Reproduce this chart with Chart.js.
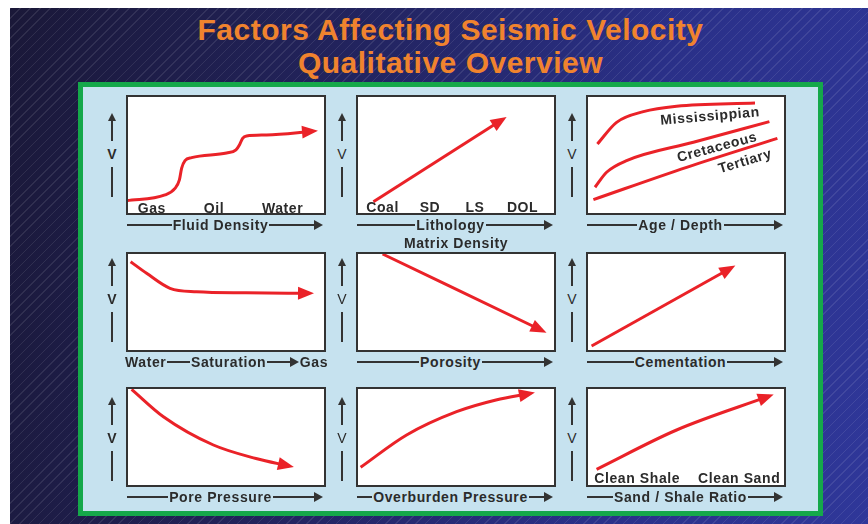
<!DOCTYPE html>
<html>
<head>
<meta charset="utf-8">
<script src="https://cdn.jsdelivr.net/npm/chart.js@4.4.1/dist/chart.umd.min.js"></script>
<style>
  html, body { margin: 0; padding: 0; }
  body { width: 868px; height: 524px; overflow: hidden; position: relative; background: #fff;
         font-family: "Liberation Sans", Arial, Helvetica, sans-serif; }
  #bg { position: absolute; left: 10px; top: 8px; right: 0; bottom: 0;
        background:
          repeating-linear-gradient(135deg, rgba(255,255,255,0.09) 0 1px, rgba(255,255,255,0) 1px 7px),
          linear-gradient(100deg, #1a1838 0%, #22235c 35%, #2a3088 70%, #2f3799 100%); }
  #title { position: absolute; left: 78px; width: 745px; top: 13px; text-align: center; color: #f0832e;
           font-weight: bold; font-size: 30px; line-height: 33px; letter-spacing: 0.5px; }
  #frame { position: absolute; left: 78px; top: 82px; width: 745px; height: 434px; box-sizing: border-box;
           border: 5px solid #15a84a; background: #c6e2ef; }
  canvas { position: absolute; }
  .lbl { position: absolute; color: #2b2b2b; font-weight: bold; font-size: 14px; letter-spacing: 0.6px;
         white-space: nowrap; line-height: 15px; }
  .xaxis { position: absolute; display: flex; align-items: center; height: 16px; }
  .xaxis .ln { flex: 1; height: 2px; background: #333; }
  .xaxis .tx { color: #2b2b2b; font-weight: bold; font-size: 14px; letter-spacing: 0.6px; white-space: nowrap; padding: 0 1px; }
  .xaxis .hd { width: 0; height: 0; border-left: 9px solid #333; border-top: 5px solid transparent; border-bottom: 5px solid transparent; }
  .yaxis { position: absolute; width: 12px; display: flex; flex-direction: column; align-items: center; }
  .yaxis .hd { width: 0; height: 0; border-bottom: 8px solid #333; border-left: 4px solid transparent; border-right: 4px solid transparent; }
  .yaxis .ln { width: 2px; background: #333; }
  .yaxis .v { height: 26px; line-height: 26px; font-size: 14px; color: #2b2b2b; }
</style>
</head>
<body>
<div id="bg"></div>
<div id="title">Factors Affecting Seismic Velocity<br>Qualitative Overview</div>
<div id="frame"></div>
<script>
// ---- data (x = position along the factor, v = relative velocity, both 0..100) ----
const fluidX = [0.3, 19.5, 24.5, 26.7, 27.8, 29.5, 32.8, 50.3, 55, 56.7, 58.3, 60.3, 70.3, 93.5];
const fluidV = [11.9, 16.7, 22.2, 29.2, 38.9, 45.3, 47.8, 51.7, 54.2, 58.3, 63.9, 65.8, 66.7, 69.8];
const fluidNames = ['Gas', 'Oil', 'Water'];

const lithX = [8.7, 73.2];
const lithV = [11.1, 79.5];
const lithNames = ['Coal', 'SD', 'LS', 'DOL'];

const ageX = [5.7, 15.3, 28.7, 45.3, 84.5];
const mississippianV = [59.2, 77.2, 86.1, 90.6, 93.3];
const cretX = [4.5, 10.3, 20.3, 53.7, 91.7];
const cretaceousV = [23.1, 35.6, 45.3, 60.6, 77.8];
const tertX = [3.7, 50.3, 95.7];
const tertiaryV = [12.8, 39.7, 63.9];
const ageNames = ['Mississippian', 'Cretaceous', 'Tertiary'];

const satX = [2.3, 10.3, 22, 35.3, 60, 91.5];
const satV = [90.3, 78.7, 63.7, 60.3, 59.2, 58.7];

const poroX = [13.3, 93];
const poroV = [98, 21.5];

const cemX = [2.8, 72.5];
const cemV = [6, 84];

const poreX = [2.8, 18.7, 43.7, 65, 81.5];
const poreV = [97.7, 70.3, 42, 28.5, 21];

const overX = [2.3, 25.3, 50.3, 70, 87];
const overV = [19.7, 52, 75.3, 87, 93.5];

const sandX = [5.3, 45.3, 91.5];
const sandV = [17.7, 57, 90.8];
const sandNames = ['Clean Shale', 'Clean Sand'];

// ---- layout ----
const RED = '#ea2228';
const INK = '#333333';
const colLeft = [126, 356, 586];
const rowTop = [95, 252, 387];
const rowH = [120, 100, 100];
const PANEL_W = 200;
const yTipOffset = [18, 6, 10];

function series(x, v, arrow) {
  return { data: x.map((xx, i) => ({ x: xx, y: v[i] })), arrow: arrow };
}

const panels = [
  { col: 0, row: 0, lines: [series(fluidX, fluidV, true)],
    names: fluidNames.map((t, i) => ({ t, x: [12.9, 44, 78.3][i], y: 6 })),
    axis: ['ln', 'Fluid Density', 'ln', 'hd'], vBold: true },
  { col: 1, row: 0, lines: [series(lithX, lithV, true)],
    names: lithNames.map((t, i) => ({ t, x: [13.3, 37, 59.5, 83.3][i], y: 6.3 })),
    axis: ['ln', 'Lithology', 'ln', 'hd'], sub: 'Matrix Density' },
  { col: 2, row: 0, lines: [series(ageX, mississippianV, false), series(cretX, cretaceousV, false), series(tertX, tertiaryV, false)],
    names: ageNames.map((t, i) => ({ t, x: [62, 65.3, 79.5][i], y: [82.8, 56.4, 45.3][i], r: [-5, -15, -17][i] })),
    axis: ['ln', ' Age / Depth ', 'ln', 'hd'] },
  { col: 0, row: 1, lines: [series(satX, satV, true)], names: [],
    axis: ['Water', 'ln', 'Saturation', 'ln', 'hd', 'Gas'], vBold: true },
  { col: 1, row: 1, lines: [series(poroX, poroV, true)], names: [],
    axis: ['ln', 'Porosity', 'ln', 'hd'] },
  { col: 2, row: 1, lines: [series(cemX, cemV, true)], names: [],
    axis: ['ln', 'Cementation', 'ln', 'hd'] },
  { col: 0, row: 2, lines: [series(poreX, poreV, true)], names: [],
    axis: ['ln', 'Pore Pressure', 'ln', 'hd'], vBold: true },
  { col: 1, row: 2, lines: [series(overX, overV, true)], names: [],
    axis: ['ln', 'Overburden Pressure', 'ln', 'hd'] },
  { col: 2, row: 2, lines: [series(sandX, sandV, true)],
    names: sandNames.map((t, i) => ({ t, x: [25.6, 76.6][i], y: 9.3 })),
    axis: ['ln', 'Sand / Shale Ratio', 'ln', 'hd'] },
];

// white panel with a dark frame, and arrow heads at the end of the curves
const panelPlugin = {
  id: 'panel',
  beforeDraw(chart) {
    const c = chart.ctx;
    c.save();
    c.fillStyle = '#ffffff';
    c.fillRect(0, 0, chart.width, chart.height);
    c.restore();
  },
  afterDatasetsDraw(chart) {
    const c = chart.ctx;
    chart.data.datasets.forEach((ds, i) => {
      if (!ds.arrow) return;
      const pts = chart.getDatasetMeta(i).data;
      const p1 = pts[pts.length - 1];
      let bx = p1.cp1x, by = p1.cp1y;
      if (bx === undefined || (Math.abs(bx - p1.x) < 0.5 && Math.abs(by - p1.y) < 0.5)) {
        bx = pts[pts.length - 2].x; by = pts[pts.length - 2].y;
      }
      const a = Math.atan2(p1.y - by, p1.x - bx);
      const len = 16, half = 6.5;
      const tx = p1.x + 5 * Math.cos(a), ty = p1.y + 5 * Math.sin(a);
      c.save();
      c.translate(tx, ty);
      c.rotate(a);
      c.fillStyle = RED;
      c.beginPath();
      c.moveTo(0, 0);
      c.lineTo(-len, -half);
      c.lineTo(-len, half);
      c.closePath();
      c.fill();
      c.restore();
    });
  },
  afterDraw(chart) {
    const c = chart.ctx;
    c.save();
    c.strokeStyle = INK;
    c.lineWidth = 2;
    c.strokeRect(1, 1, chart.width - 2, chart.height - 2);
    c.restore();
  }
};

function addDiv(cls, css, text) {
  const d = document.createElement('div');
  d.className = cls;
  Object.assign(d.style, css);
  if (text !== undefined) d.textContent = text;
  document.body.appendChild(d);
  return d;
}

panels.forEach(p => {
  const left = colLeft[p.col], top = rowTop[p.row], h = rowH[p.row];
  const cv = document.createElement('canvas');
  cv.width = PANEL_W; cv.height = h;
  cv.style.left = left + 'px'; cv.style.top = top + 'px';
  cv.style.width = PANEL_W + 'px'; cv.style.height = h + 'px';
  document.body.appendChild(cv);

  const chart = new Chart(cv, {
    type: 'line',
    data: {
      datasets: p.lines.map(s => ({
        data: s.data,
        arrow: s.arrow,
        borderColor: RED,
        borderWidth: 3,
        pointRadius: 0,
        fill: false,
        cubicInterpolationMode: 'monotone'
      }))
    },
    options: {
      responsive: false,
      animation: false,
      events: [],
      layout: { padding: 0 },
      plugins: { legend: { display: false }, tooltip: { enabled: false } },
      scales: {
        x: { type: 'linear', min: 0, max: 100, display: false },
        y: { type: 'linear', min: 0, max: 100, display: false }
      }
    },
    plugins: [panelPlugin]
  });

  // labels inside the panel, placed through the chart scales
  p.names.forEach(n => {
    const px = left + chart.scales.x.getPixelForValue(n.x);
    const py = top + chart.scales.y.getPixelForValue(n.y);
    addDiv('lbl', { left: px + 'px', top: py + 'px',
      transform: 'translate(-50%,-50%) rotate(' + (n.r || 0) + 'deg)' }, n.t);
  });

  // velocity arrow on the left
  const tip = top + yTipOffset[p.row];
  const ya = addDiv('yaxis', { left: (left - 20) + 'px', top: tip + 'px' });
  ya.innerHTML = '<div class="hd"></div><div class="ln" style="height:20px"></div>' +
    '<div class="v" style="font-weight:' + (p.vBold ? 'bold' : 'normal') + '">V</div>' +
    '<div class="ln" style="height:30px"></div>';

  // factor arrow underneath
  const xa = addDiv('xaxis', { left: (left + 1) + 'px', width: (PANEL_W - 4) + 'px', top: (top + h + 2) + 'px' });
  if (p.axis[0] === 'Water') { xa.style.left = (left - 2) + 'px'; xa.style.width = (PANEL_W + 5) + 'px'; }
  p.axis.forEach(item => {
    const s = document.createElement('span');
    if (item === 'ln' || item === 'hd') s.className = item;
    else { s.className = 'tx'; s.textContent = item; }
    xa.appendChild(s);
  });
  if (p.sub) {
    addDiv('lbl', { left: (left + PANEL_W / 2) + 'px', top: (top + h + 21) + 'px', transform: 'translateX(-50%)' }, p.sub);
  }
});
</script>
</body>
</html>
